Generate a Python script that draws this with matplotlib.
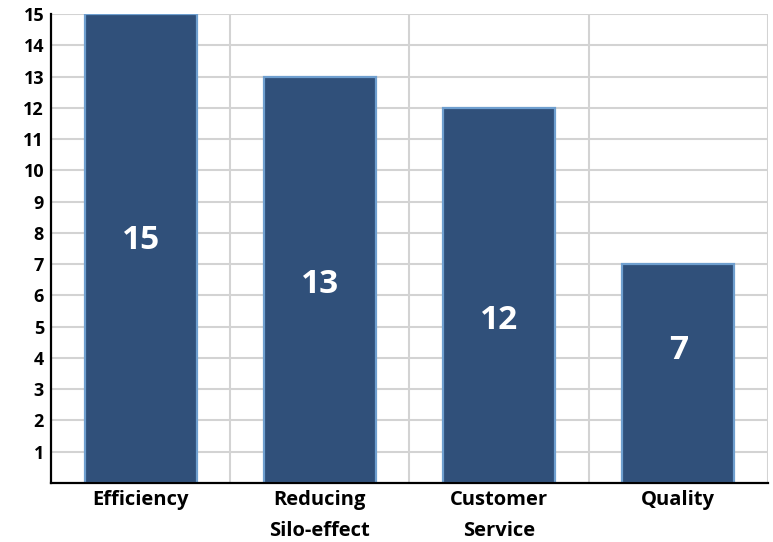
import matplotlib.pyplot as plt
import numpy as np

# data
categories = ["Efficiency", "Reducing\nSilo-effect", "Customer\nService", "Quality"]
values = [15, 13, 12, 7]
y_ticks = list(range(1, 16))
# where the value labels sit (in data units), they are not centred in the bars
label_heights = [7.75, 6.35, 5.2, 4.25]

bar_color = "#30507A"
edge_color = "#6F9FCF"
grid_color = "#D3D3D3"

plt.rcParams["font.family"] = ["Open Sans", "DejaVu Sans"]
plt.rcParams["font.weight"] = "bold"

fig = plt.figure(figsize=(7.73, 5.42), dpi=100)
ax = fig.add_axes([0.066, 0.1089, 0.9275, 0.8653])

x = np.arange(len(categories))
ax.bar(x, values, width=0.625, color=bar_color, edgecolor=edge_color,
       linewidth=1.6, zorder=3)

for xi, v, h in zip(x, values, label_heights):
    ax.text(xi, h, str(v), ha="center", va="center", color="white",
            fontsize=24, fontweight="bold", zorder=4)

ax.set_xlim(-0.5, len(categories) - 0.5)
ax.set_ylim(0, 15)

ax.set_yticks(y_ticks)
ax.set_yticklabels([str(t) for t in y_ticks], fontsize=13, fontweight="bold")
ax.set_xticks(x)
ax.set_xticklabels(categories, fontsize=14.5, fontweight="bold", linespacing=1.75)
ax.set_xticks(np.arange(len(categories)) + 0.5, minor=True)

ax.tick_params(axis="both", which="both", length=0)
ax.tick_params(axis="y", pad=5)
ax.tick_params(axis="x", pad=5)

ax.grid(axis="y", which="major", color=grid_color, linewidth=1.5, zorder=0)
ax.grid(axis="x", which="minor", color=grid_color, linewidth=1.5, zorder=0)
ax.grid(axis="x", which="major", visible=False)

ax.spines["top"].set_visible(False)
ax.spines["right"].set_visible(False)
for side in ["left", "bottom"]:
    ax.spines[side].set_color("black")
    ax.spines[side].set_linewidth(1.6)
    ax.spines[side].set_zorder(5)

fig.savefig("out.png", dpi=100)
